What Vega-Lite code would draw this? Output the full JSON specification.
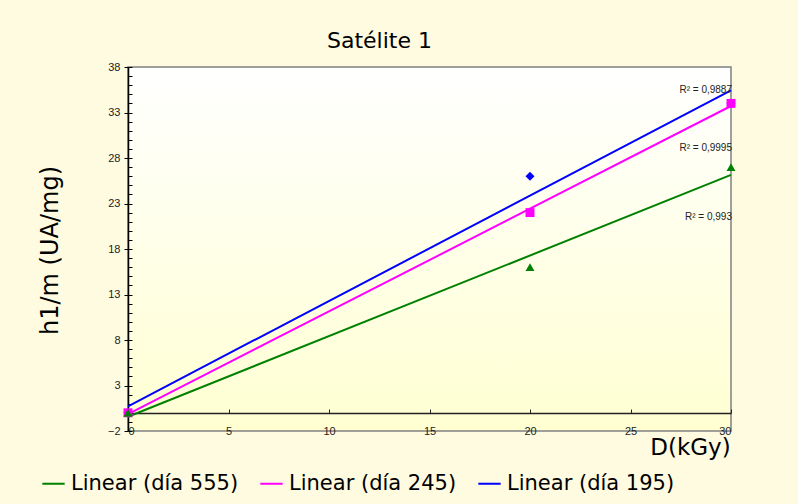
{
  "$schema": "https://vega.github.io/schema/vega-lite/v6.json",
  "width": 603,
  "height": 364,
  "autosize": {"type": "none"},
  "padding": {"left": 128, "top": 67, "right": 67, "bottom": 73},
  "background": "#fffbe0",
  "title": {"text": "Satélite 1", "fontSize": 22, "font": "DejaVu Sans", "fontWeight": "normal", "color": "#000", "anchor": "middle", "dx": -50, "offset": 8},
  "config": {
    "view": {"stroke": "#808080", "strokeWidth": 1.5, "fill": {"gradient": "linear", "x1": 0, "y1": 0, "x2": 0, "y2": 1, "stops": [{"offset": 0, "color": "#ffffff"}, {"offset": 1, "color": "#ffffd2"}]}},
    "axis": {"labelFont": "Liberation Sans", "labelFontSize": 11, "labelColor": "#222", "grid": false, "tickColor": "#000", "domainColor": "#000"}
  },
  "datasets": {
    "pts": [
      {"serie": "día 195", "x": 0, "y": 0},
      {"serie": "día 195", "x": 20, "y": 26},
      {"serie": "día 195", "x": 30, "y": 34},
      {"serie": "día 245", "x": 0, "y": 0},
      {"serie": "día 245", "x": 20, "y": 22},
      {"serie": "día 245", "x": 30, "y": 34},
      {"serie": "día 555", "x": 0, "y": 0},
      {"serie": "día 555", "x": 20, "y": 16},
      {"serie": "día 555", "x": 30, "y": 27}
    ],
    "r2": [
      {"label": "R² = 0,9887", "x": 30, "y": 35.5},
      {"label": "R² = 0,9995", "x": 30, "y": 29.1},
      {"label": "R² = 0,993", "x": 30, "y": 21.5}
    ]
  },
  "resolve": {"axis": {"x": "independent", "y": "independent"}},
  "layer": [
    {
      "data": {"name": "pts"},
      "transform": [{"regression": "y", "on": "x", "groupby": ["serie"], "extent": [0, 30]}],
      "mark": {"type": "line", "strokeWidth": 2},
      "encoding": {
        "x": {"field": "x", "type": "quantitative", "scale": {"domain": [0, 30], "nice": false},
          "axis": {"orient": "bottom", "offset": -18, "labels": false, "ticks": false, "domainColor": "#222", "domainWidth": 1.5,
            "title": "D(kGy)", "titleFont": "DejaVu Sans", "titleFontSize": 23, "titleFontWeight": "normal", "titleColor": "#000", "titleX": 562, "titleY": 34, "titleBaseline": "middle", "titleAlign": "center", "titleAnchor": null}},
        "y": {"field": "y", "type": "quantitative", "scale": {"domain": [-2, 38], "nice": false, "zero": false},
          "axis": {"orient": "left", "offset": -4, "values": [-2,-1,0,1,2,3,4,5,6,7,8,9,10,11,12,13,14,15,16,17,18,19,20,21,22,23,24,25,26,27,28,29,30,31,32,33,34,35,36,37,38], "labels": false, "tickSize": 4, "domain": false, "title": null}},
        "color": {"field": "serie", "type": "nominal",
          "scale": {"domain": ["día 555", "día 245", "día 195"], "range": ["#008000", "#ff00ff", "#0000ff"]},
          "legend": {"orient": "none", "legendX": -87, "legendY": 404, "direction": "horizontal", "title": null,
            "labelExpr": "'Linear (' + datum.label + ')'", "labelFont": "DejaVu Sans", "labelFontSize": 21, "labelColor": "#000", "labelLimit": 400,
            "symbolType": "stroke", "symbolStrokeWidth": 2, "symbolSize": 500, "columnPadding": 17, "labelOffset": 5}}
      }
    },
    {
      "data": {"name": "pts"},
      "mark": {"type": "point", "filled": true, "size": 80, "opacity": 1},
      "encoding": {
        "x": {"field": "x", "type": "quantitative",
          "axis": {"orient": "bottom", "values": [0, 5, 10, 15, 20, 25, 30], "ticks": false, "domain": false, "labelPadding": 0, "labelBaseline": "middle", "title": null}},
        "y": {"field": "y", "type": "quantitative",
          "axis": {"orient": "left", "values": [-2, 3, 8, 13, 18, 23, 28, 33, 38], "tickSize": 4, "labelPadding": 4, "domain": true, "domainColor": "#000", "domainWidth": 1.5, "title": "h1/m (UA/mg)", "titleFont": "DejaVu Sans", "titleFontSize": 24, "titleFontWeight": "normal", "titleColor": "#000", "titleX": -78, "titleY": 183, "titleAnchor": null, "titleAlign": "center", "titleBaseline": "middle"}},
        "color": {"field": "serie", "type": "nominal", "legend": null},
        "shape": {"field": "serie", "type": "nominal", "legend": null,
          "scale": {"domain": ["día 195", "día 245", "día 555"], "range": ["diamond", "square", "triangle-up"]}},
        "order": {"field": "serie", "sort": "ascending"}
      }
    },
    {
      "data": {"name": "r2"},
      "mark": {"type": "text", "align": "right", "baseline": "middle", "dx": 1, "font": "Liberation Sans", "fontSize": 10, "color": "#222"},
      "encoding": {
        "x": {"field": "x", "type": "quantitative",
          "axis": {"orient": "bottom", "offset": -22, "values": [0, 5, 10, 15, 20, 25, 30], "labels": false, "domain": false, "tickSize": 4, "tickColor": "#222", "title": null}},
        "y": {"field": "y", "type": "quantitative", "axis": null},
        "text": {"field": "label"}
      }
    }
  ]
}
